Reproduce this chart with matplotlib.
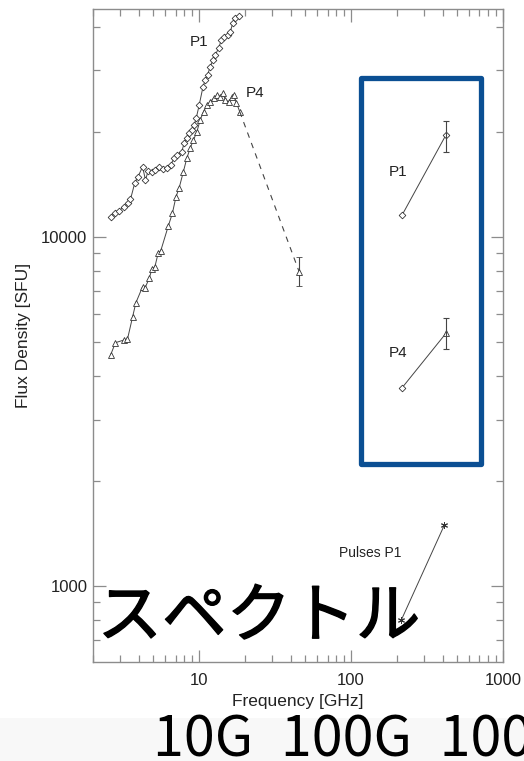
import numpy as np
import matplotlib.pyplot as plt
import matplotlib.patheffects as pe
from matplotlib.patches import Rectangle
from matplotlib.ticker import LogLocator, FuncFormatter, NullFormatter

plt.rcParams['font.family'] = ['Liberation Sans', 'DejaVu Sans']

# peak P1 spectrum (diamonds)
p1_freq = [2.61, 2.78, 2.97, 3.19, 3.40, 3.53, 3.77, 3.96, 4.24, 4.43, 4.62, 4.86,
           5.11, 5.46, 5.75, 6.11, 6.49, 6.83, 7.18, 7.68, 7.96, 8.29, 8.63, 8.95,
           9.27, 9.56, 10.0, 10.58, 10.96, 11.35, 11.83, 12.32, 12.76, 13.42, 13.99,
           14.64, 15.39, 16.05, 16.62, 17.31, 18.21]
p1_flux = [11440, 11700, 11900, 12210, 12490, 12820, 14310, 14890, 15900, 14560, 15490, 15380,
           15560, 15850, 15640, 15740, 16080, 16810, 17180, 17560, 18560, 19180, 19820, 20260,
           20940, 21890, 23880, 26850, 28180, 29130, 30780, 32150, 33230, 34730, 36690,
           37500, 37930, 38770, 40960, 42330, 42960]

# peak P4 spectrum (triangles)
p4_freq = [2.61, 2.81, 3.20, 3.37, 3.64, 3.83, 4.24, 4.39, 4.69, 4.88, 5.11, 5.38,
           5.58, 6.26, 6.66, 7.04, 7.37, 7.87, 8.29, 8.72, 9.17, 9.66, 10.15, 10.68,
           11.25, 11.83, 12.43, 13.10, 13.77, 14.36, 14.87, 15.63, 16.47, 16.87, 17.58, 18.49]
p4_flux = [4590, 4980, 5070, 5090, 5890, 6480, 7200, 7130, 7615, 8080, 8220, 9020,
           9120, 10750, 11690, 13050, 13790, 15390, 16810, 17960, 18960, 20030, 21640, 22860,
           23880, 24420, 24970, 25520, 25230, 25800, 24700, 24420, 25230, 25520, 24260, 22860]

# 45 GHz point of P4 with its error range
p4_hi_freq = 45.5
p4_hi_flux = 7955
p4_hi_lo, p4_hi_up = 7220, 8780

# sub-THz pairs (212 / 405 GHz)
sub_freq = [216.7, 421.0]
sub_p1_flux = [11560, 19600]
sub_p1_err = (17560, 21500)
sub_p4_flux = [3700, 5297]
sub_p4_err = (4765, 5850)
pulse_flux = [799, 1495]
pulse_freq = [214.0, 411.0]

W, H = 524, 761
fig = plt.figure(figsize=(W / 100, H / 100), dpi=100)

# faint band along the bottom
fig.patches.append(Rectangle((0, 0), 1, 43 / H, transform=fig.transFigure,
                             facecolor='#f8f8f8', edgecolor='none', zorder=0))

ax = fig.add_axes([93 / W, 1 - 662 / H, 410 / W, 653 / H])
ax.set_xscale('log')
ax.set_yscale('log')
ax.set_xlim(2, 1000)
ax.set_ylim(606, 45000)

lc = '#444444'
lw = 0.7
ax.plot(p1_freq, p1_flux, color=lc, lw=lw, marker='D', ms=3.4, mfc='white',
        mec='#333333', mew=0.6)
ax.plot(p4_freq, p4_flux, color=lc, lw=lw, marker='^', ms=4.5, mfc='white',
        mec='#333333', mew=0.6)
ax.plot([p4_freq[-1], p4_hi_freq], [p4_flux[-1], p4_hi_flux], color=lc, lw=0.8,
        ls=(0, (5, 5)))
ax.errorbar([p4_hi_freq], [p4_hi_flux],
            yerr=[[p4_hi_flux - p4_hi_lo], [p4_hi_up - p4_hi_flux]],
            fmt='^', ms=4.5, mfc='white', mec='#333333', mew=0.6,
            ecolor=lc, elinewidth=0.8, capsize=2.5, capthick=0.8)

# sub-THz data
ax.plot(sub_freq, sub_p1_flux, color=lc, lw=lw, marker='D', ms=3.4, mfc='white',
        mec='#333333', mew=0.6)
ax.errorbar([sub_freq[1]], [sub_p1_flux[1]],
            yerr=[[sub_p1_flux[1] - sub_p1_err[0]], [sub_p1_err[1] - sub_p1_flux[1]]],
            fmt='none', ecolor=lc, elinewidth=0.8, capsize=2.5, capthick=0.8)
ax.plot(sub_freq, sub_p4_flux, color=lc, lw=lw, ls='-', marker=None)
ax.plot(sub_freq[:1], sub_p4_flux[:1], ls='none', marker='D', ms=3.4, mfc='white',
        mec='#333333', mew=0.6)
ax.plot(sub_freq[1:], sub_p4_flux[1:], ls='none', marker='^', ms=4.5, mfc='white',
        mec='#333333', mew=0.6)
ax.errorbar([sub_freq[1]], [sub_p4_flux[1]],
            yerr=[[sub_p4_flux[1] - sub_p4_err[0]], [sub_p4_err[1] - sub_p4_flux[1]]],
            fmt='none', ecolor=lc, elinewidth=0.8, capsize=2.5, capthick=0.8)
ax.plot(pulse_freq, pulse_flux, color=lc, lw=lw, marker=(6, 2, 0), ms=5,
        mec='#333333', mew=0.7, zorder=6)

# curve labels
tkw = dict(fontsize=11, color='#222222', ha='center', va='center')
ax.text(10.05, 36270, 'P1', **tkw)
ax.text(23.5, 25910, 'P4', **tkw)
ax.text(204, 15390, 'P1', **tkw)
ax.text(204, 4643, 'P4', **tkw)
ax.text(133.6, 1241, 'Pulses P1', fontsize=10, color='#222222', ha='center', va='center')

# axes styling: inward ticks on all four sides
frame = '#8c8c8c'
for s in ax.spines.values():
    s.set_color(frame)
    s.set_linewidth(1.0)
ax.xaxis.set_major_locator(LogLocator(base=10, numticks=10))
ax.xaxis.set_minor_locator(LogLocator(base=10, subs=np.arange(2, 10), numticks=20))
ax.yaxis.set_major_locator(LogLocator(base=10, numticks=10))
ax.yaxis.set_minor_locator(LogLocator(base=10, subs=np.arange(2, 10), numticks=20))
plain = FuncFormatter(lambda v, p: '%d' % round(v))
ax.xaxis.set_major_formatter(plain)
ax.yaxis.set_major_formatter(plain)
ax.xaxis.set_minor_formatter(NullFormatter())
ax.yaxis.set_minor_formatter(NullFormatter())
ax.tick_params(which='both', direction='in', top=True, right=True, color=frame,
               width=0.9, labelsize=12, labelcolor='#222222')
ax.tick_params(which='major', length=9)
ax.tick_params(which='minor', length=5)
ax.tick_params(axis='x', which='major', pad=8)
ax.tick_params(axis='y', which='major', pad=4)

ax.set_xlabel('Frequency [GHz]', fontsize=12.5, color='#222222', labelpad=4)
ax.set_ylabel('Flux Density [SFU]', fontsize=12.5, color='#222222', labelpad=7)

# blue box around the sub-THz points
fig.patches.append(Rectangle((361 / W, 1 - 464 / H), 120 / W, 386 / H,
                             transform=fig.transFigure, fill=False,
                             edgecolor='#0b4f93', linewidth=3.8, joinstyle='round',
                             zorder=5))

jp = ['Noto Sans CJK JP', 'DejaVu Sans']
fig.text(259 / W, 1 - 618 / H, 'スペクトル', family=jp, fontsize=46.5,
         color='black', ha='center', va='center',
         path_effects=[pe.withStroke(linewidth=1.0, foreground='black')])
fig.text(153 / W, 1 - 741 / H, '10G\u2002100G\u20021000G', family=jp, fontsize=40,
         color='black', ha='left', va='center')

fig.savefig('out.png', dpi=100)
